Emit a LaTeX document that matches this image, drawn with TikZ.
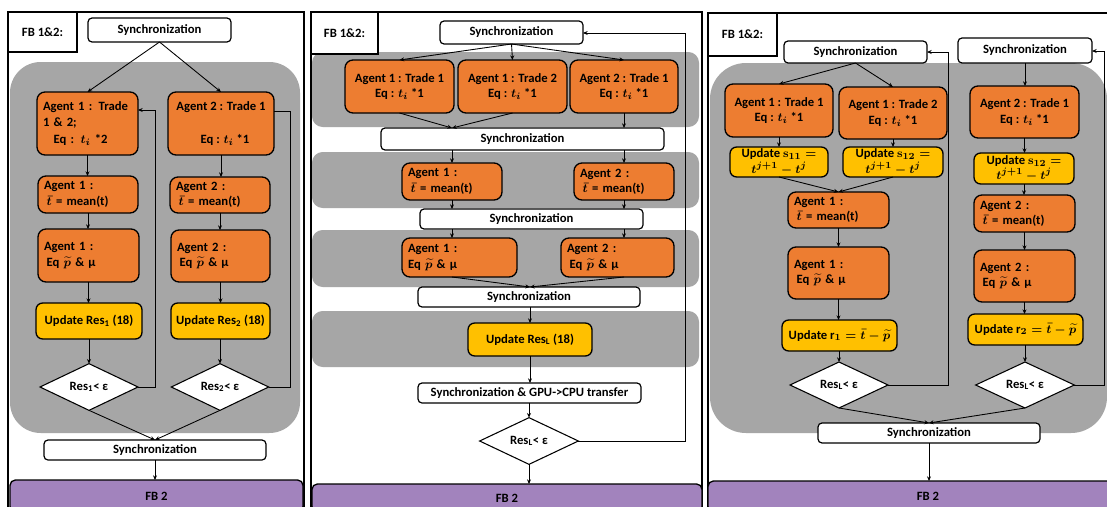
\documentclass[tikz,border=0pt]{standalone}
\usepackage{fontspec}
\setmainfont{Carlito}
\usetikzlibrary{arrows.meta,shapes.geometric}

\definecolor{org}{HTML}{ED7D31}
\definecolor{ylw}{HTML}{FFC000}
\definecolor{gry}{HTML}{A6A6A6}
\definecolor{prp}{HTML}{A283BD}

% box from its corner coordinates: style, name, x1, y1, x2, y2, text
\newcommand\bx[7]{%
  \pgfmathsetmacro\boxW{(#5-#3)*0.75}%
  \pgfmathsetmacro\boxH{(#6-#4)*0.75}%
  \pgfmathsetmacro\boxT{(#5-#3)*0.75-9}%
  \node[#1, minimum width=\boxW pt, minimum height=\boxH pt] (#2) at ({(#3+#5)/2},{(#4+#6)/2}) {#7};}

\tikzset{
  base/.style={font=\fontsize{9.5pt}{11.5pt}\selectfont\bfseries\boldmath, inner sep=0pt, outer sep=0pt},
  sync/.style={base, draw, fill=white, rounded corners=3pt, line width=0.9pt, align=center},
  agent/.style={base, draw, fill=org, rounded corners=6pt, line width=1pt},
  lft/.style={text width=\boxT pt, align=left},
  ctr/.style={align=center},
  upd/.style={base, draw, fill=ylw, rounded corners=5pt, line width=1pt, align=center},
  test/.style={base, diamond, draw, fill=white, line width=0.8pt, aspect=2.1},
  frame/.style={draw, line width=1pt},
  tag/.style={base, draw, fill=white, line width=1pt},
  tail/.style={base, draw, fill=prp, rounded corners=4pt, line width=1pt},
  conn/.style={draw, line width=0.65pt, -{Stealth[length=3.5pt,width=3pt]}},
  wire/.style={draw, line width=0.65pt},
}

\begin{document}
\begin{tikzpicture}[x=0.75pt,y=-0.75pt]
\useasboundingbox (0,0) rectangle (1107,507);
\clip (0,0) rectangle (1107,507);
\fill[white] (0,0) rectangle (1107,507);

% ---------------- left panel ----------------
\draw[frame] (8,12) rectangle (304,520);
\fill[gry, rounded corners=23pt] (10,62) rectangle (300,433);
\bx{tag}{fbA}{8}{12}{77}{52}{FB 1\&2:}
\bx{sync}{sA1}{88}{18}{231}{42}{Synchronization}
\bx{agent,lft}{a11}{37}{92}{138}{155}{Agent 1 : Trade\\[1pt]1 \& 2;\\[1pt]\hspace*{8pt}Eq : $t_i$ *2}
\bx{agent,ctr}{a21}{168}{92}{274}{155}{Agent 2 : Trade 1\\[13pt]\hspace*{6pt}Eq : $t_i$ *1}
\bx{agent,lft}{a12}{38}{176}{138}{213}{Agent 1 :\\\hspace*{2pt}$\bar{t}$ = mean(t)}
\bx{agent,lft}{a22}{170}{177}{270}{213}{Agent 2 :\\\hspace*{2pt}$\bar{t}$ = mean(t)}
\bx{agent,lft}{a13}{38}{229}{139}{282}{Agent 1 :\\\hspace*{2pt}Eq $\widetilde{p}$ \& μ}
\bx{agent,lft}{a23}{171}{230}{270}{282}{Agent 2 :\\\hspace*{2pt}Eq $\widetilde{p}$ \& μ}
\bx{upd}{u11}{36}{303}{142}{339}{Update Res\textsubscript{1} (18)}
\bx{upd}{u21}{171}{303}{270}{339}{Update Res\textsubscript{2} (18)}
\node[test, minimum width=73.5pt, minimum height=35pt] (d11) at (89,387) {Res\textsubscript{1}< ε};
\node[test, minimum width=73pt, minimum height=35pt] (d21) at (220,387) {Res\textsubscript{2}< ε};
\bx{sync}{sB1}{44}{440}{266}{460}{Synchronization}
\bx{tail}{fb21}{10}{480}{303}{512}{FB 2}

\draw[conn] (sA1.south) -- (a11.north);
\draw[conn] (sA1.south) -- (a21.north);
\draw[conn] (a11.south) -- (a11.south |- a12.north);
\draw[conn] (a12.south) -- (a12.south |- a13.north);
\draw[conn] (a13.south) -- (a13.south |- u11.north);
\draw[conn] (u11.south -| d11.north) -- (d11.north);
\draw[conn] (a21.south) -- (a21.south |- a22.north);
\draw[conn] (a22.south) -- (a22.south |- a23.north);
\draw[conn] (a23.south) -- (a23.south |- u21.north);
\draw[conn] (u21.south -| d21.north) -- (d21.north);
\draw[conn] (d11.east) -| (155,110) -- (a11.east |- 0,110);
\draw[wire] (d21.east) -| (290,111) -- (a21.east |- 0,111);
\draw[conn] (d11.south) -- (sB1.north);
\draw[conn] (d21.south) -- (sB1.north);
\draw[conn] (sB1.south) -- (sB1.south |- fb21.north);

% ---------------- middle panel ----------------
\draw[frame] (311,12) rectangle (702,520);
\fill[gry, rounded corners=8pt] (312,52) rectangle (699,127);
\fill[gry, rounded corners=8pt] (312,152) rectangle (699,208);
\fill[gry, rounded corners=8pt] (312,230) rectangle (699,287);
\fill[gry, rounded corners=8pt] (312,311) rectangle (699,367);
\bx{tag}{fbB}{311}{12}{378}{54}{FB 1\&2:}
\bx{sync}{sA2}{440}{21}{583}{44}{Synchronization}
\bx{agent,ctr}{b1}{345}{60}{454}{113}{Agent 1 : Trade 1\\Eq : $t_i$ *1}
\bx{agent,ctr}{b2}{458}{60}{567}{113}{Agent 1 : Trade 2\\Eq : $t_i$ *1}
\bx{agent,ctr}{b3}{570}{60}{678}{113}{Agent 2 : Trade 1\\Eq : $t_i$ *1}
\bx{sync}{sB2}{381}{128}{664}{150}{Synchronization}
\bx{agent,lft}{m1}{402}{163}{502}{200}{Agent 1 :\\\hspace*{2pt}$\bar{t}$ = mean(t)}
\bx{agent,lft}{m2}{574}{163}{674}{200}{Agent 2 :\\\hspace*{2pt}$\bar{t}$ = mean(t)}
\bx{sync}{sC2}{420}{209}{643}{229}{Synchronization}
\bx{agent,lft}{e1}{402}{238}{517}{277}{Agent 1 :\\Eq $\widetilde{p}$ \& μ}
\bx{agent,lft}{e2}{561}{238}{674}{277}{Agent 2 :\\\hspace*{2pt}Eq $\widetilde{p}$ \& μ}
\bx{sync}{sD2}{418}{287}{640}{307}{Synchronization}
\bx{upd}{uL}{468}{323}{592}{356}{Update Res\textsubscript{L} (18)}
\bx{sync}{sE2}{418}{383}{641}{403}{Synchronization \& GPU->CPU transfer}
\node[test, minimum width=74pt, minimum height=35pt] (dL) at (529,441) {Res\textsubscript{L}< ε};
\bx{tail}{fb22}{312}{484}{702}{512}{FB 2}

\draw[conn] (sA2.south) -- (b1.north);
\draw[conn] (sA2.south) -- (b2.north);
\draw[conn] (sA2.south) -- (b3.north);
\draw[conn] (b1.south) -- (sB2.north -| m1.north);
\draw[conn] (b2.south) -- (sB2.north -| m1.north);
\draw[conn] (b3.south) -- (b3.south |- sB2.north);
\draw[conn] (sB2.south -| m1.north) -- (m1.north);
\draw[conn] (sB2.south -| m2.north) -- (m2.north);
\draw[conn] (m1.south) -- (m1.south |- sC2.north);
\draw[conn] (m2.south) -- (m2.south |- sC2.north);
\draw[conn] (sC2.south -| m1.north) -- (m1.north |- e1.north);
\draw[conn] (sC2.south -| m2.north) -- (m2.north |- e2.north);
\draw[conn] (m1.south |- e1.south) -- (sD2.north -| uL.north);
\draw[conn] (m2.south |- e2.south) -- (sD2.north -| uL.north);
\draw[conn] (sD2.south -| uL.north) -- (uL.north);
\draw[conn] (uL.south) -- (uL.south |- sE2.north);
\draw[conn] (sE2.south -| dL.north) -- (dL.north);
\draw[conn] (dL.south) -- (dL.south |- fb22.north);
\draw[conn] (dL.east) -| (685,33) -- (sA2.east |- 0,33);

% ---------------- right panel ----------------
\draw[frame] (708,13) rectangle (1120,520);
\fill[gry, rounded corners=27pt] (710,63) rectangle (1107,433);
\bx{tag}{fbC}{708}{13}{777}{56}{FB 1\&2:}
\bx{sync}{sL3}{784}{41}{927}{63}{Synchronization}
\bx{sync}{sR3}{958}{38}{1092}{63}{Synchronization}
\bx{agent,ctr}{c1}{725}{84}{833}{137}{Agent 1 : Trade 1\\Eq : $t_i$ *1}
\bx{agent,ctr}{c2}{839}{87}{947}{139}{Agent 1 : Trade 2\\Eq : $t_i$ *1}
\bx{agent,ctr}{c3}{970}{86}{1079}{138}{Agent 2 : Trade 1\\Eq : $t_i$ *1}
\bx{upd}{us1}{730}{147}{828}{177}{Update $\mathbf{s}_{11}=$\\$t^{j+1}-t^{j}$}
\bx{upd}{us2}{843}{147}{943}{177}{Update $\mathbf{s}_{12}=$\\$t^{j+1}-t^{j}$}
\bx{upd}{us3}{974}{153}{1074}{184}{Update $\mathbf{s}_{12}=$\\$t^{j+1}-t^{j}$}
\bx{agent,lft}{am1}{788}{192}{889}{228}{Agent 1 :\\\hspace*{2pt}$\bar{t}$ = mean(t)}
\bx{agent,lft}{ae1}{788}{247}{889}{299}{Agent 1 :\\\hspace*{2pt}Eq $\widetilde{p}$ \& μ}
\bx{upd}{ur1}{782}{320}{897}{351}{Update $\mathrm{r}_1=\bar{t}-\widetilde{p}$}
\node[test, minimum width=73.5pt, minimum height=34.5pt] (dl3) at (839,385) {Res\textsubscript{L}< ε};
\bx{agent,lft}{am2}{974}{195}{1075}{232}{Agent 2 :\\\hspace*{2pt}$\bar{t}$ = mean(t)}
\bx{agent,lft}{ae2}{974}{250}{1075}{302}{Agent 2 :\\\hspace*{2pt}Eq $\widetilde{p}$ \& μ}
\bx{upd}{ur2}{968}{314}{1083}{345}{Update $\mathrm{r}_2=\bar{t}-\widetilde{p}$}
\node[test, minimum width=74pt, minimum height=34.5pt] (dr3) at (1025,385) {Res\textsubscript{L}< ε};
\bx{sync}{sB3}{818}{423}{1040}{443}{Synchronization}
\bx{tail}{fb23}{708}{481}{1148}{512}{FB 2}

\draw[conn] (sL3.south) -- (c1.north);
\draw[conn] (sL3.south) -- (c2.north);
\draw[conn] (sR3.south) -- (sR3.south |- c3.north);
\draw[conn] (c1.south) -- (c1.south |- us1.north);
\draw[conn] (c2.south) -- (c2.south |- us2.north);
\draw[conn] (c3.south) -- (c3.south |- us3.north);
\draw[conn] (us1.south) -- (am1.north);
\draw[conn] (us2.south) -- (am1.north);
\draw[conn] (am1.south) -- (am1.south |- ae1.north);
\draw[conn] (ae1.south) -- (ae1.south |- ur1.north);
\draw[conn] (ur1.south -| dl3.north) -- (dl3.north);
\draw[conn] (us3.south) -- (us3.south |- am2.north);
\draw[conn] (am2.south) -- (am2.south |- ae2.north);
\draw[conn] (ae2.south) -- (ae2.south |- ur2.north);
\draw[conn] (ur2.south -| dr3.north) -- (dr3.north);
\draw[conn] (dl3.south) -- (sB3.north);
\draw[conn] (dr3.south) -- (sB3.north);
\draw[conn] (sB3.south) -- (sB3.south |- fb23.north);
\draw[conn] (dl3.east) -| (948,52) -- (sL3.east |- 0,52);
\draw[conn] (dr3.east) -| (1104,51) -- (sR3.east |- 0,51);
\end{tikzpicture}
\end{document}
